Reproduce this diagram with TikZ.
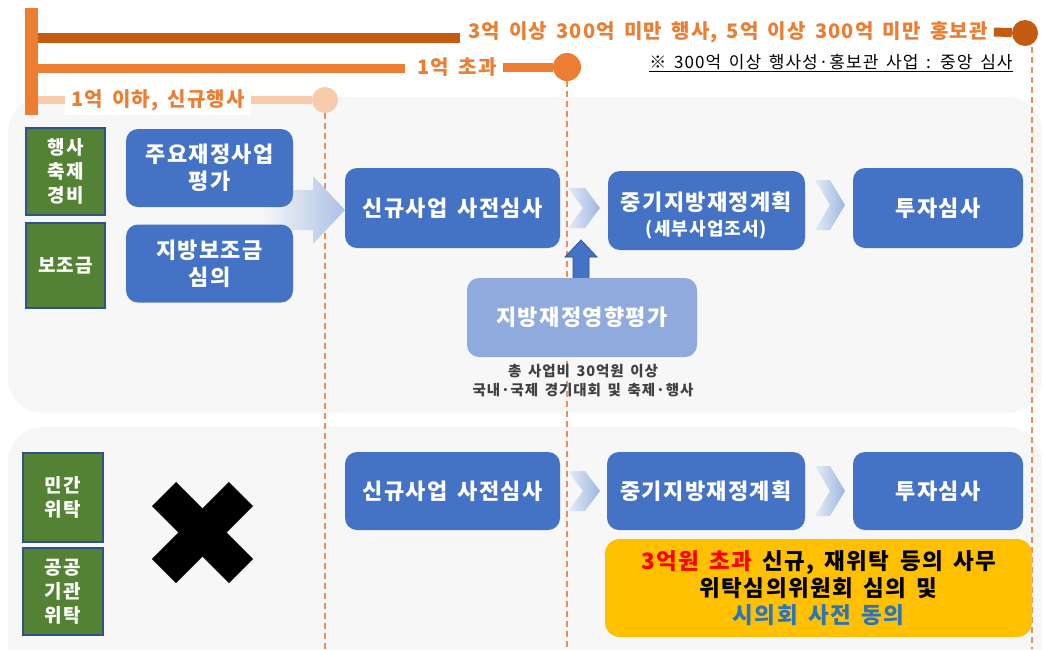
\documentclass[tikz,border=0pt]{standalone}
\usepackage{fontspec}
\setmainfont{Noto Sans CJK KR}[LetterSpace=6,WordSpace=1.6]
\definecolor{orD}{HTML}{C55A11}
\definecolor{orM}{HTML}{ED7D31}
\definecolor{orL}{HTML}{F8CBAD}
\definecolor{panelc}{HTML}{F7F7F7}
\definecolor{grn}{HTML}{548235}
\definecolor{grnb}{HTML}{2F528F}
\definecolor{blu}{HTML}{4472C4}
\definecolor{bluD}{HTML}{2F5597}
\definecolor{lblu}{HTML}{8FAADC}
\definecolor{yel}{HTML}{FFC000}
\definecolor{txtblue}{HTML}{2E75B6}
\definecolor{txtred}{HTML}{FF0000}
\definecolor{dashc}{HTML}{E8905A}
\definecolor{chevL}{HTML}{E4ECF7}
\definecolor{chevR}{HTML}{9DB6E0}
\definecolor{capc}{HTML}{404040}
\newcommand{\fs}[2]{\fontsize{#1}{#2}\selectfont}
\tikzset{
  greenbox/.style={draw=grnb, line width=1.2pt, fill=grn, text=white, font=\fs{19}{24}\bfseries, align=center, inner sep=0pt},
  bluebox/.style={fill=blu, rounded corners=12pt, text=white, font=\fs{22}{27}\bfseries, align=center, inner sep=0pt},
  panelbox/.style={fill=panelc, rounded corners=35pt},
  guide/.style={dashc, line width=1.3pt, dash pattern=on 6pt off 4pt},
  chev/.style={left color=chevL, right color=chevR},
  toptext/.style={text=orM, font=\fs{20}{24}\bfseries, fill=white, inner xsep=6pt, inner ysep=4pt},
}
\begin{document}
\begin{tikzpicture}[x=1pt,y=-1pt]
\useasboundingbox[fill=white] (0,0) rectangle (1044,649);
% panels
\path[panelbox] (8,97) rectangle (1042,413);
\path[panelbox] (8,427) rectangle (1042,690);
% guide lines
\coordinate (g1top) at (325,113); \coordinate (g1bot) at (325,649);
\coordinate (g2top) at (567,81);  \coordinate (g2bot) at (567,649);
\coordinate (g3top) at (1032,47); \coordinate (g3bot) at (1032,649);
\draw[guide] (g1top) -- (g1bot);
\draw[guide] (g2top) -- (g2bot);
\draw[guide] (g3top) -- (g3bot);
% top bar and budget lines
\fill[orM] (25,8) rectangle (38,115);
\coordinate (l1s) at (38,38); \coordinate (l1e) at (460,38);
\coordinate (l2s) at (38,68); \coordinate (l2e) at (405,68);
\coordinate (l3s) at (38,100);
\draw[orD, line width=10pt] (l1s) -- (l1e);
\draw[orM, line width=9pt] (l2s) -- (l2e);
\node[circle, fill=orD, minimum size=26pt, inner sep=0pt] (c1) at (1025,33) {};
\node[circle, fill=orM, minimum size=28pt, inner sep=0pt] (c2) at (567,67) {};
\node[circle, fill=orL, minimum size=26pt, inner sep=0pt] (c3) at (325,100) {};
\draw[orL, line width=8pt] (l3s) -- (c3);
\node[toptext, anchor=east] (t1) at (994,32) {3억 이상 300억 미만 행사, 5억 이상 300억 미만 홍보관};
\draw[orD, line width=9pt] (t1.east) -- (c1);
\node[toptext] (t2) at (457,67) {1억 초과};
\draw[orM, line width=9pt] (t2.east) -- (c2);
\node[toptext] (t3) at (158,100) {1억 이하, 신규행사};
\node[font=\fs{17}{20}, text=black] (note) at (831,63) {\underline{※ 300억 이상 행사성·홍보관 사업 : 중앙 심사}};
% green labels
\node[greenbox, minimum width=79pt, minimum height=87pt] (gA) at (65.5,171.5) {행사\\축제\\경비};
\node[greenbox, minimum width=79pt, minimum height=85pt] (gB) at (65.5,265.5) {보조금};
\node[greenbox, minimum width=80pt, minimum height=89pt] (gC) at (63,497.5) {민간\\위탁};
\node[greenbox, minimum width=80pt, minimum height=87pt] (gD) at (63,591.5) {공공\\기관\\위탁};
% big merging arrow
\coordinate (bigtip) at (345,210);
\shade[left color=panelc, right color=chevR!85]
  (262,190) -- (313,190) -- (313,176) -- (bigtip) -- (313,244) -- (313,230) -- (262,230) -- cycle;
% row 1 boxes
\node[bluebox, minimum width=167pt, minimum height=78pt] (b1) at (209.5,168) {주요재정사업\\평가};
\node[bluebox, minimum width=167pt, minimum height=78pt] (b2) at (209.5,263.5) {지방보조금\\심의};
\node[bluebox, minimum width=215pt, minimum height=80pt] (n1) at (452.5,208) {신규사업 사전심사};
\node[bluebox, minimum width=197pt, minimum height=79pt] (m1) at (706.5,210.5) {};
\node[text=white, font=\fs{22}{27}\bfseries, align=center] (m1t) at (706.5,215) {중기지방재정계획\\[-2pt]{\fs{18}{20}(세부사업조서)}};
\node[bluebox, minimum width=170pt, minimum height=80pt] (i1) at (938,208) {투자심사};
\shade[chev] (568,188) -- (585,188) -- (600,208) -- (585,228) -- (568,228) -- (583,208) -- cycle;
\shade[chev] (815,180) -- (830,180) -- (845,205) -- (830,230) -- (815,230) -- (830,205) -- cycle;
% impact assessment
\node[fill=lblu, rounded corners=12pt, text=white, font=\fs{22}{26}\bfseries, minimum width=230pt, minimum height=79pt, inner sep=0pt] (lb) at (582,317.5) {지방재정영향평가};
\draw[fill=blu, draw=bluD, line width=0.8pt] (lb.north -| 573,0) -- (573,257) -- (565,257) -- (581,240) -- (597,257) -- (589,257) -- (lb.north -| 589,0);
\node[font=\fs{14.5}{19}\bfseries, text=capc, align=center, anchor=north] (cap) at (583,361) {총 사업비 30억원 이상\\국내·국제 경기대회 및 축제·행사};
% row 2
\draw[black, line width=34pt] (164,494) -- (241,571);
\draw[black, line width=34pt] (164,571) -- (241,494);
\node[bluebox, minimum width=215pt, minimum height=78pt] (n2) at (452.5,491) {신규사업 사전심사};
\node[bluebox, minimum width=198pt, minimum height=78pt] (m2) at (706,491) {중기지방재정계획};
\node[bluebox, minimum width=170pt, minimum height=78pt] (i2) at (938,491) {투자심사};
\shade[chev] (568,471) -- (585,471) -- (600,491) -- (585,511) -- (568,511) -- (583,491) -- cycle;
\shade[chev] (815,466) -- (830,466) -- (845,491) -- (830,516) -- (815,516) -- (830,491) -- cycle;
\node[fill=yel, rounded corners=15pt, minimum width=427pt, minimum height=98pt, inner sep=0pt, font=\fs{22.5}{27}\bfseries, align=center, text=black] (yb) at (818.5,588) {{\color{txtred}3억원 초과} 신규, 재위탁 등의 사무\\위탁심의위원회 심의 및\\{\color{txtblue}시의회 사전 동의}};
\end{tikzpicture}
\end{document}
